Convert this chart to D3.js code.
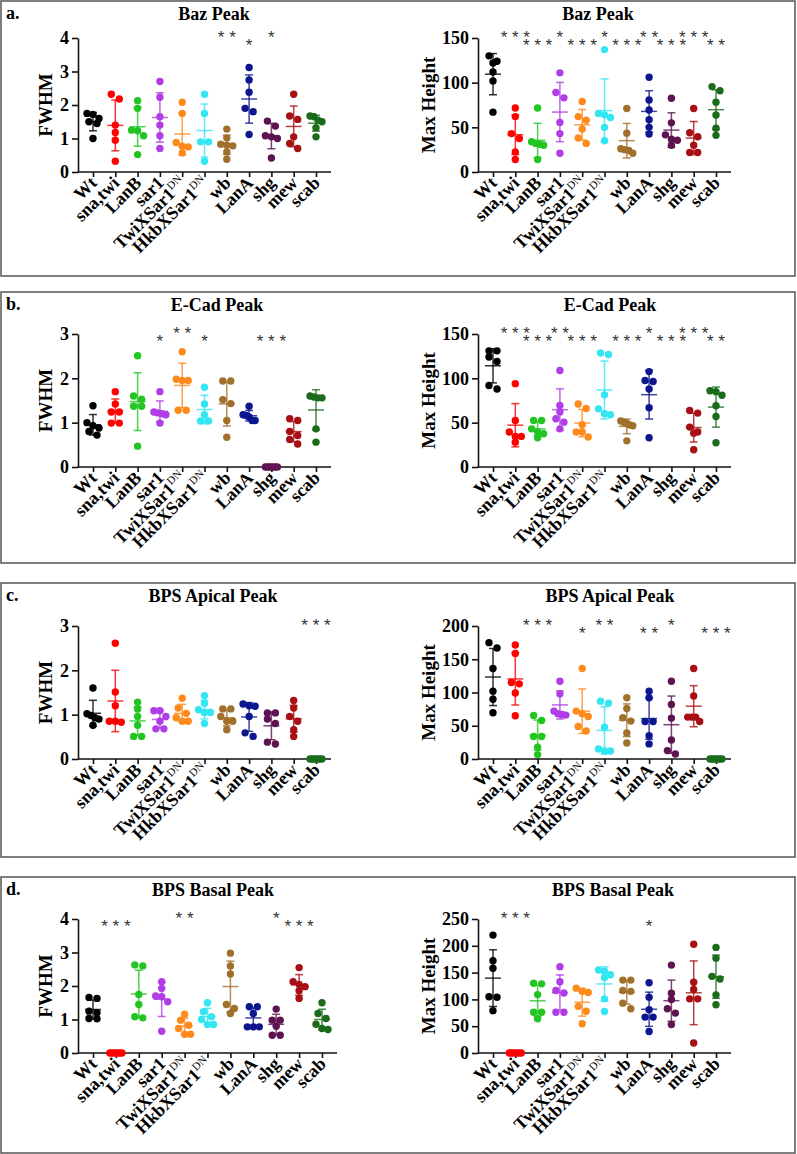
<!DOCTYPE html>
<html>
<head>
<meta charset="utf-8">
<script src="https://cdn.jsdelivr.net/npm/d3@7"></script>
<style>
  body { margin: 0; background: #fff; }
  svg { display: block; }
</style>
</head>
<body>
<div id="chart"></div>
<script>
// groups on the x axis
const groups = ['Wt', 'sna,twi', 'LanB', 'sar1', 'TwiXSar1', 'HkbXSar1', 'wb', 'LanA', 'shg', 'mew', 'scab']
const groupSup = ['', '', '', '', 'DN', 'DN', '', '', '', '', '']
const groupColors = ['#000000', '#ff0000', '#22c522', '#b03de6', '#ff8a1c', '#33e6f2', '#a0702c', '#0c168e', '#5e1450', '#a80f14', '#1b6b1b']

// y tick values
const fwhmTicks4 = [0, 1, 2, 3, 4]
const fwhmTicks3 = [0, 1, 2, 3]
const heightTicks150 = [0, 50, 100, 150]
const heightTicks200 = [0, 50, 100, 150, 200]
const heightTicks250 = [0, 50, 100, 150, 200, 250]

// a. Baz peak
const bazFwhm = [
  [1.75, 1.72, 1.6, 1.5, 1.45, 1.0],
  [2.32, 2.18, 1.4, 1.18, 0.95, 0.32],
  [2.13, 1.9, 1.25, 1.23, 1.08, 0.52],
  [2.7, 2.23, 1.65, 1.4, 1.08, 0.7],
  [2.08, 1.75, 0.88, 0.77, 0.75, 0.57],
  [2.32, 1.75, 0.9, 0.9, 0.32],
  [1.28, 1.02, 0.83, 0.8, 0.78, 0.6, 0.38],
  [3.12, 2.75, 2.38, 1.9, 1.8, 1.12],
  [1.52, 1.37, 1.08, 1.05, 1.0, 0.42],
  [2.32, 1.67, 1.57, 1.05, 0.85, 0.7],
  [1.67, 1.65, 1.55, 1.5, 1.32, 1.05]
]
const bazHeight = [
  [130, 124, 122, 112, 102, 67],
  [71.6, 62, 43, 37.5, 22.5, 14],
  [71.6, 33.8, 32, 31, 30, 14],
  [111, 89, 83, 55.5, 43, 21],
  [79, 62, 58, 48, 38, 32],
  [137, 65.6, 64, 61, 50, 35],
  [71, 43.5, 26, 25, 24, 21],
  [106, 80.6, 69.4, 58.5, 50, 42.4],
  [82.5, 55, 41.6, 36.8, 35.6, 30],
  [71, 44, 39.4, 30, 21.8, 21.8],
  [95.6, 91, 78, 63.8, 49, 41]
]
const bazFwhmStars = ['', '', '', '', '', '', '**', '*', '*', '', '']
const bazFwhmStarRow = [0, 0, 0, 0, 0, 0, 0, 1, 0, 0, 0]
const bazHeightStars = ['', '***', '***', '*', '***', '*', '***', '**', '***', '***', '**']
const bazHeightStarRow = [0, 0, 1, 0, 1, 0, 1, 0, 1, 0, 1]

// b. E-Cad peak
const ecadFwhm = [
  [1.38, 1.0, 0.93, 0.88, 0.8, 0.72],
  [1.7, 1.42, 1.24, 1.24, 0.99, 0.99],
  [2.51, 1.6, 1.53, 1.37, 1.37, 0.47],
  [1.7, 1.24, 1.22, 1.2, 1.18, 0.99],
  [2.6, 1.98, 1.95, 1.95, 1.28, 1.28],
  [1.8, 1.42, 1.18, 1.04, 1.04],
  [1.94, 1.94, 1.52, 1.43, 1.05, 0.67],
  [1.37, 1.18, 1.16, 1.13, 1.05, 1.05],
  [0, 0, 0, 0, 0, 0],
  [1.09, 1.05, 0.8, 0.71, 0.62, 0.52],
  [1.6, 1.58, 1.56, 1.56, 0.86, 0.56]
]
const ecadHeight = [
  [131, 131, 124, 119, 92, 88],
  [94, 52.5, 39.4, 34.5, 34.5, 28],
  [52.5, 52.5, 43, 39.4, 37.5, 33],
  [108.8, 69.4, 62, 54.4, 50.6, 43],
  [71, 66, 47.6, 39.4, 39.4, 33.8],
  [128.6, 126.8, 81.4, 65.6, 60, 59],
  [52, 50.5, 49, 47.5, 46.5, 29.5],
  [107.6, 97.5, 96.4, 88, 66.8, 33],
  [],
  [63.8, 60.8, 45, 39.4, 38.2, 19.5],
  [86, 85, 81, 69, 57, 27.4]
]
const ecadFwhmStars = ['', '', '', '*', '**', '*', '', '', '***', '', '']
const ecadFwhmStarRow = [0, 0, 0, 1, 0, 1, 0, 0, 1, 0, 0]
const ecadHeightStars = ['', '***', '***', '**', '***', '', '***', '*', '***', '***', '**']
const ecadHeightStarRow = [0, 0, 1, 0, 1, 0, 1, 0, 1, 0, 1]

// c. BPS apical peak
const apicalFwhm = [
  [1.6, 1.02, 0.98, 0.93, 0.9, 0.76],
  [2.61, 1.51, 1.2, 0.85, 0.85, 0.83],
  [1.28, 1.13, 0.96, 0.76, 0.51, 0.51],
  [1.09, 1.09, 0.96, 0.85, 0.68, 0.68],
  [1.37, 1.15, 1.03, 0.93, 0.85, 0.85],
  [1.43, 1.26, 1.11, 1.05, 1.05, 0.8],
  [1.13, 1.13, 0.96, 0.85, 0.85, 0.66],
  [1.24, 1.2, 1.19, 0.96, 0.59, 0.51],
  [1.04, 1.04, 0.9, 0.8, 0.38, 0.34],
  [1.32, 1.15, 0.96, 0.85, 0.66, 0.51],
  [0, 0, 0, 0, 0, 0]
]
const apicalHeight = [
  [175, 167, 136, 102, 90, 69.5],
  [171.4, 158.8, 115, 113, 99.3, 65],
  [65.5, 58, 33.8, 33.8, 17.6, 6.6],
  [117, 98, 72, 68, 67, 66],
  [136, 72, 68, 64, 49, 42],
  [87, 84, 48, 15, 12, 12],
  [92, 76, 62, 57, 39, 24],
  [102, 92, 56.5, 56.5, 35, 22.7],
  [117, 82, 61.5, 28.7, 12.6, 7.6],
  [136, 94.8, 63, 63, 63, 56.5],
  [0, 0, 0, 0, 0, 0]
]
const apicalFwhmStars = ['', '', '', '', '', '', '', '', '', '', '***']
const apicalFwhmStarRow = [0, 0, 0, 0, 0, 0, 0, 0, 0, 0, 0]
const apicalHeightStars = ['', '', '***', '', '*', '**', '', '**', '*', '', '***']
const apicalHeightStarRow = [0, 0, 0, 0, 1, 0, 0, 1, 0, 0, 1]

// d. BPS basal peak
const basalFwhm = [
  [1.66, 1.63, 1.25, 1.2, 1.03, 1.02],
  [0, 0, 0, 0, 0, 0],
  [2.63, 2.6, 1.75, 1.45, 1.08, 1.05],
  [2.13, 1.93, 1.7, 1.68, 1.53, 0.65],
  [1.16, 0.98, 0.83, 0.73, 0.56, 0.56],
  [1.5, 1.23, 1.08, 1.0, 0.85, 0.85],
  [2.98, 2.6, 2.36, 1.45, 1.33, 1.18],
  [1.38, 1.38, 1.18, 0.78, 0.78, 0.78],
  [1.31, 0.98, 0.98, 0.8, 0.53, 0.53],
  [2.55, 2.13, 2.05, 1.98, 1.86, 1.63],
  [1.5, 1.18, 1.03, 0.86, 0.73, 0.7]
]
const basalHeight = [
  [220, 172, 158, 105, 104, 79],
  [0, 0, 0, 0, 0, 0],
  [130, 129, 109, 76, 76, 64],
  [161, 133, 116.6, 112, 76, 76],
  [121, 115, 113, 87, 78, 54.6],
  [155, 152.5, 146, 141, 101, 77.5],
  [136, 136, 116.6, 115, 93, 82.5],
  [131, 104, 80.6, 67, 67, 40],
  [164, 111.6, 100, 82.5, 74.4, 53],
  [203, 132, 118.4, 101, 101, 18.6],
  [197, 177, 143, 138, 108.5, 90]
]
const basalFwhmStars = ['', '***', '', '', '**', '', '', '', '*', '***', '']
const basalFwhmStarRow = [0, 1, 0, 0, 0, 0, 0, 0, 0, 1, 0]
const basalHeightStars = ['', '***', '', '', '', '', '', '*', '', '', '']
const basalHeightStarRow = [0, 0, 0, 0, 0, 0, 0, 1, 0, 0, 0]

// layout
const panels = [
  {
    label: 'a.', top: 1, bottom: 276, axisTop: 38, axisBottom: 172,
    plots: [
      { title: 'Baz Peak', titleX: 214, yLabel: 'FWHM', ticks: fwhmTicks4, values: bazFwhm, stars: bazFwhmStars, starRow: bazFwhmStarRow, side: 0 },
      { title: 'Baz Peak', titleX: 598, yLabel: 'Max Height', ticks: heightTicks150, values: bazHeight, stars: bazHeightStars, starRow: bazHeightStarRow, side: 1 }
    ]
  },
  {
    label: 'b.', top: 292, bottom: 563, axisTop: 334, axisBottom: 467,
    plots: [
      { title: 'E-Cad Peak', titleX: 217, yLabel: 'FWHM', ticks: fwhmTicks3, values: ecadFwhm, stars: ecadFwhmStars, starRow: ecadFwhmStarRow, side: 0 },
      { title: 'E-Cad Peak', titleX: 610, yLabel: 'Max Height', ticks: heightTicks150, values: ecadHeight, stars: ecadHeightStars, starRow: ecadHeightStarRow, side: 1 }
    ]
  },
  {
    label: 'c.', top: 583, bottom: 857, axisTop: 626, axisBottom: 759,
    plots: [
      { title: 'BPS Apical Peak', titleX: 213, yLabel: 'FWHM', ticks: fwhmTicks3, values: apicalFwhm, stars: apicalFwhmStars, starRow: apicalFwhmStarRow, side: 0 },
      { title: 'BPS Apical Peak', titleX: 610, yLabel: 'Max Height', ticks: heightTicks200, values: apicalHeight, stars: apicalHeightStars, starRow: apicalHeightStarRow, side: 1 }
    ]
  },
  {
    label: 'd.', top: 877, bottom: 1153, axisTop: 919, axisBottom: 1053,
    plots: [
      { title: 'BPS Basal Peak', titleX: 213, yLabel: 'FWHM', ticks: fwhmTicks4, values: basalFwhm, stars: basalFwhmStars, starRow: basalFwhmStarRow, side: 0, wide: true },
      { title: 'BPS Basal Peak', titleX: 613, yLabel: 'Max Height', ticks: heightTicks250, values: basalHeight, stars: basalHeightStars, starRow: basalHeightStarRow, side: 1 }
    ]
  }
]

const SERIF = '"Liberation Serif", "Times New Roman", serif'
const R = 3.7

const svg = d3.select('#chart')
  .append('svg')
  .attr('width', 797)
  .attr('height', 1154)

function drawPlot (plot, panel) {
  const axisX = plot.side === 0 ? 78 : 478
  const first = axisX + 15
  const last = first + (plot.wide ? 229 : 223)
  const x = d3.scalePoint().domain(groups).range([first, last])
  const y = d3.scaleLinear()
    .domain([0, d3.max(plot.ticks)])
    .range([panel.axisBottom, panel.axisTop])

  const g = svg.append('g')

  // title
  g.append('text')
    .attr('x', plot.titleX)
    .attr('y', panel.top + 19)
    .attr('text-anchor', 'middle')
    .style('font', `bold 18px ${SERIF}`)
    .text(plot.title)

  // y axis
  const yAxis = g.append('g')
    .attr('transform', `translate(${axisX},0)`)
    .call(d3.axisLeft(y).tickValues(plot.ticks).tickSize(6).tickSizeOuter(0).tickPadding(3).tickFormat(d3.format('d')))
  yAxis.select('.domain').attr('stroke', '#111').attr('stroke-width', 1.6)
  yAxis.selectAll('.tick line').attr('stroke', '#111').attr('stroke-width', 1.6)
  yAxis.selectAll('.tick text').style('font', `bold 18px ${SERIF}`).attr('fill', '#000')

  g.append('text')
    .attr('transform', `translate(${plot.side === 0 ? 45 : 428},${(panel.axisTop + panel.axisBottom) / 2}) rotate(-90)`)
    .attr('text-anchor', 'middle')
    .attr('dy', '0.35em')
    .style('font', `bold 19px ${SERIF}`)
    .text(plot.yLabel)

  // x axis
  g.append('line')
    .attr('x1', axisX).attr('x2', last + 15)
    .attr('y1', panel.axisBottom).attr('y2', panel.axisBottom)
    .attr('stroke', '#111').attr('stroke-width', 1.6)
  const xAxis = g.append('g')
    .attr('transform', `translate(0,${panel.axisBottom})`)
    .call(d3.axisBottom(x).tickSize(5).tickSizeOuter(0).tickFormat(''))
  xAxis.select('.domain').remove()
  xAxis.selectAll('.tick line').attr('stroke', '#111').attr('stroke-width', 1.6)

  groups.forEach((name, i) => {
    const t = g.append('text')
      .attr('transform', `translate(${x(name) + 5},${panel.axisBottom + 12}) rotate(-45)`)
      .attr('text-anchor', 'end')
      .style('font', `bold 18px ${SERIF}`)
    t.append('tspan').text(name)
    if (groupSup[i]) {
      t.append('tspan')
        .attr('dy', -7)
        .style('font', `normal 11px ${SERIF}`)
        .text(groupSup[i])
    }
  })

  // dots, error bars
  plot.values.forEach((vals, i) => {
    if (!vals.length) return
    const cx = x(groups[i])
    const color = groupColors[i]
    const sorted = vals.slice().sort((a, b) => b - a)

    // spread points of about the same height sideways
    const clusters = []
    sorted.forEach(v => {
      const cy = y(v)
      const c = clusters[clusters.length - 1]
      if (c && Math.abs(cy - c[0]) < 1.6 * R) c.push(cy)
      else clusters.push([cy])
    })
    const pts = []
    clusters.forEach(c => {
      const k = c.length
      const step = k > 1 ? Math.min(8, 12 / (k - 1)) : 0
      c.forEach((cy, j) => pts.push({ x: cx + (j - (k - 1) / 2) * step, y: cy }))
    })

    g.selectAll(null)
      .data(pts)
      .join('circle')
      .attr('cx', d => d.x)
      .attr('cy', d => d.y)
      .attr('r', R)
      .attr('fill', color)

    const mean = d3.mean(vals)
    const sd = vals.length > 1 ? d3.deviation(vals) : 0
    const bars = g.append('g')
      .attr('stroke', color)
      .attr('stroke-opacity', 0.8)
      .attr('stroke-width', 1.5)
    const yTop = y(mean + sd)
    const yBot = y(Math.max(0, mean - sd))
    if (sd > 0) {
      bars.append('line').attr('x1', cx).attr('x2', cx).attr('y1', yTop).attr('y2', yBot)
      bars.append('line').attr('x1', cx - 4).attr('x2', cx + 4).attr('y1', yTop).attr('y2', yTop)
      bars.append('line').attr('x1', cx - 4).attr('x2', cx + 4).attr('y1', yBot).attr('y2', yBot)
    }
    bars.append('line').attr('x1', cx - 8).attr('x2', cx + 8).attr('y1', y(mean)).attr('y2', y(mean))
  })

  // significance stars
  plot.stars.forEach((s, i) => {
    if (!s) return
    const centerY = plot.starRow[i] === 0 ? panel.axisTop - 4 : panel.axisTop + 4
    g.append('text')
      .attr('x', x(groups[i]))
      .attr('y', centerY + 9)
      .attr('text-anchor', 'middle')
      .attr('fill', '#333')
      .style('font', '17px "Liberation Sans", Arial, sans-serif')
      .text(s.split('').join(' '))
  })
}

panels.forEach(panel => {
  svg.append('rect')
    .attr('x', 1)
    .attr('y', panel.top)
    .attr('width', 794)
    .attr('height', panel.bottom - panel.top)
    .attr('fill', 'none')
    .attr('stroke', '#555')
    .attr('stroke-width', 1.5)

  svg.append('text')
    .attr('x', 6)
    .attr('y', panel.top + 18)
    .style('font', `bold 18px ${SERIF}`)
    .text(panel.label)

  panel.plots.forEach(plot => drawPlot(plot, panel))
})
</script>
</body>
</html>
